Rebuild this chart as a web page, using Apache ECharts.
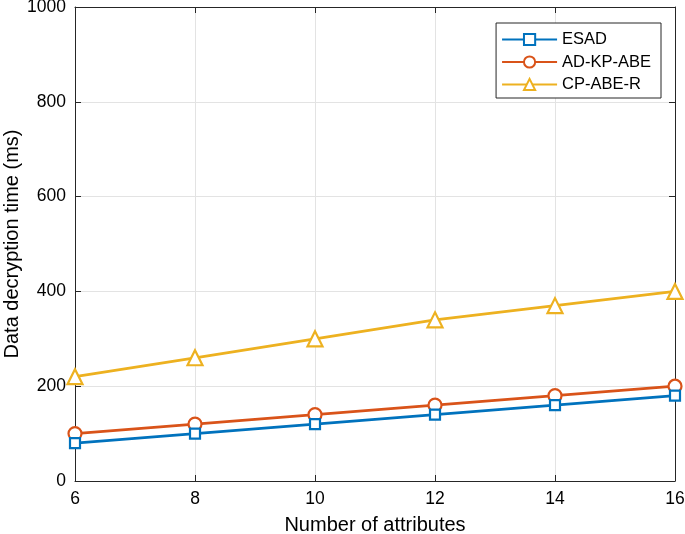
<!DOCTYPE html>
<html><head><meta charset="utf-8">
<script src="https://cdn.jsdelivr.net/npm/echarts@6/dist/echarts.min.js"></script>
<style>html,body{margin:0;padding:0;background:#fff}#c{width:685px;height:534px}</style>
</head><body><div id="c"></div>
<script>
const xValues = [6, 8, 10, 12, 14, 16];
const esad = [80, 100, 120, 140, 160, 180];
const adkp = [100, 120, 140, 160, 180, 200];
const cpabe = [220, 260, 300, 340, 370, 400];
const seriesNames = ['ESAD', 'AD-KP-ABE', 'CP-ABE-R'];

const font = 'Liberation Sans, Arial, sans-serif';
const colors = ['#0072BD', '#D95319', '#EDB120'];
const symbols = ['rect', 'circle', 'triangle'];
const sizes = [10, 13, 15];
const datas = [esad, adkp, cpabe];

const chart = echarts.init(document.getElementById('c'));
const axisCommon = {
  axisLine: {show: true, onZero: false, lineStyle: {color: '#262626', width: 1}},
  axisTick: {show: true, inside: true, length: 6, lineStyle: {color: '#262626'}},
};
chart.setOption({
  animation: false,
  backgroundColor: '#fff',
  grid: {left: 75, right: 10, top: 7, bottom: 53, containLabel: false, outerBoundsMode: 'none'},
  legend: {
    orient: 'vertical', right: 24, top: 23,
    data: seriesNames,
    backgroundColor: '#fff', borderColor: '#262626', borderWidth: 1, borderRadius: 0,
    padding: [8, 10, 5, 5], itemGap: 5.5, itemWidth: 55, itemHeight: 14,
    textStyle: {fontFamily: font, fontSize: 16.5, color: '#000'}
  },
  xAxis: [
    Object.assign({type: 'value', min: 6, max: 16, interval: 2,
      name: 'Number of attributes', nameLocation: 'middle', nameGap: 34, nameMoveOverlap: false,
      nameTextStyle: {fontFamily: font, fontSize: 20, color: '#000'},
      axisLabel: {fontFamily: font, fontSize: 17.5, color: '#000', margin: 9},
      splitLine: {show: true, lineStyle: {color: '#e3e3e3', width: 1}}}, axisCommon),
    Object.assign({type: 'value', position: 'top', min: 6, max: 16, interval: 2,
      axisLabel: {show: false}, splitLine: {show: false}}, axisCommon)
  ],
  yAxis: [
    Object.assign({type: 'value', min: 0, max: 1000, interval: 200,
      name: 'Data decryption time (ms)', nameLocation: 'middle', nameGap: 53, nameMoveOverlap: false,
      nameTextStyle: {fontFamily: font, fontSize: 20, color: '#000'},
      axisLabel: {fontFamily: font, fontSize: 17.5, color: '#000', margin: 9,
        formatter: v => String(v)},
      splitLine: {show: true, lineStyle: {color: '#e3e3e3', width: 1}}}, axisCommon),
    Object.assign({type: 'value', position: 'right', min: 0, max: 1000, interval: 200,
      axisLabel: {show: false}, splitLine: {show: false}}, axisCommon)
  ],
  series: seriesNames.map((n, i) => ({
    name: n, type: 'line',
    data: xValues.map((x, j) => [x, datas[i][j]]),
    symbol: symbols[i], symbolSize: sizes[i], showSymbol: true,
    lineStyle: {color: colors[i], width: 2.8},
    itemStyle: {color: '#fff', borderColor: colors[i], borderWidth: 2.2},
    z: 3 - i + 2
  }))
});
</script></body></html>
